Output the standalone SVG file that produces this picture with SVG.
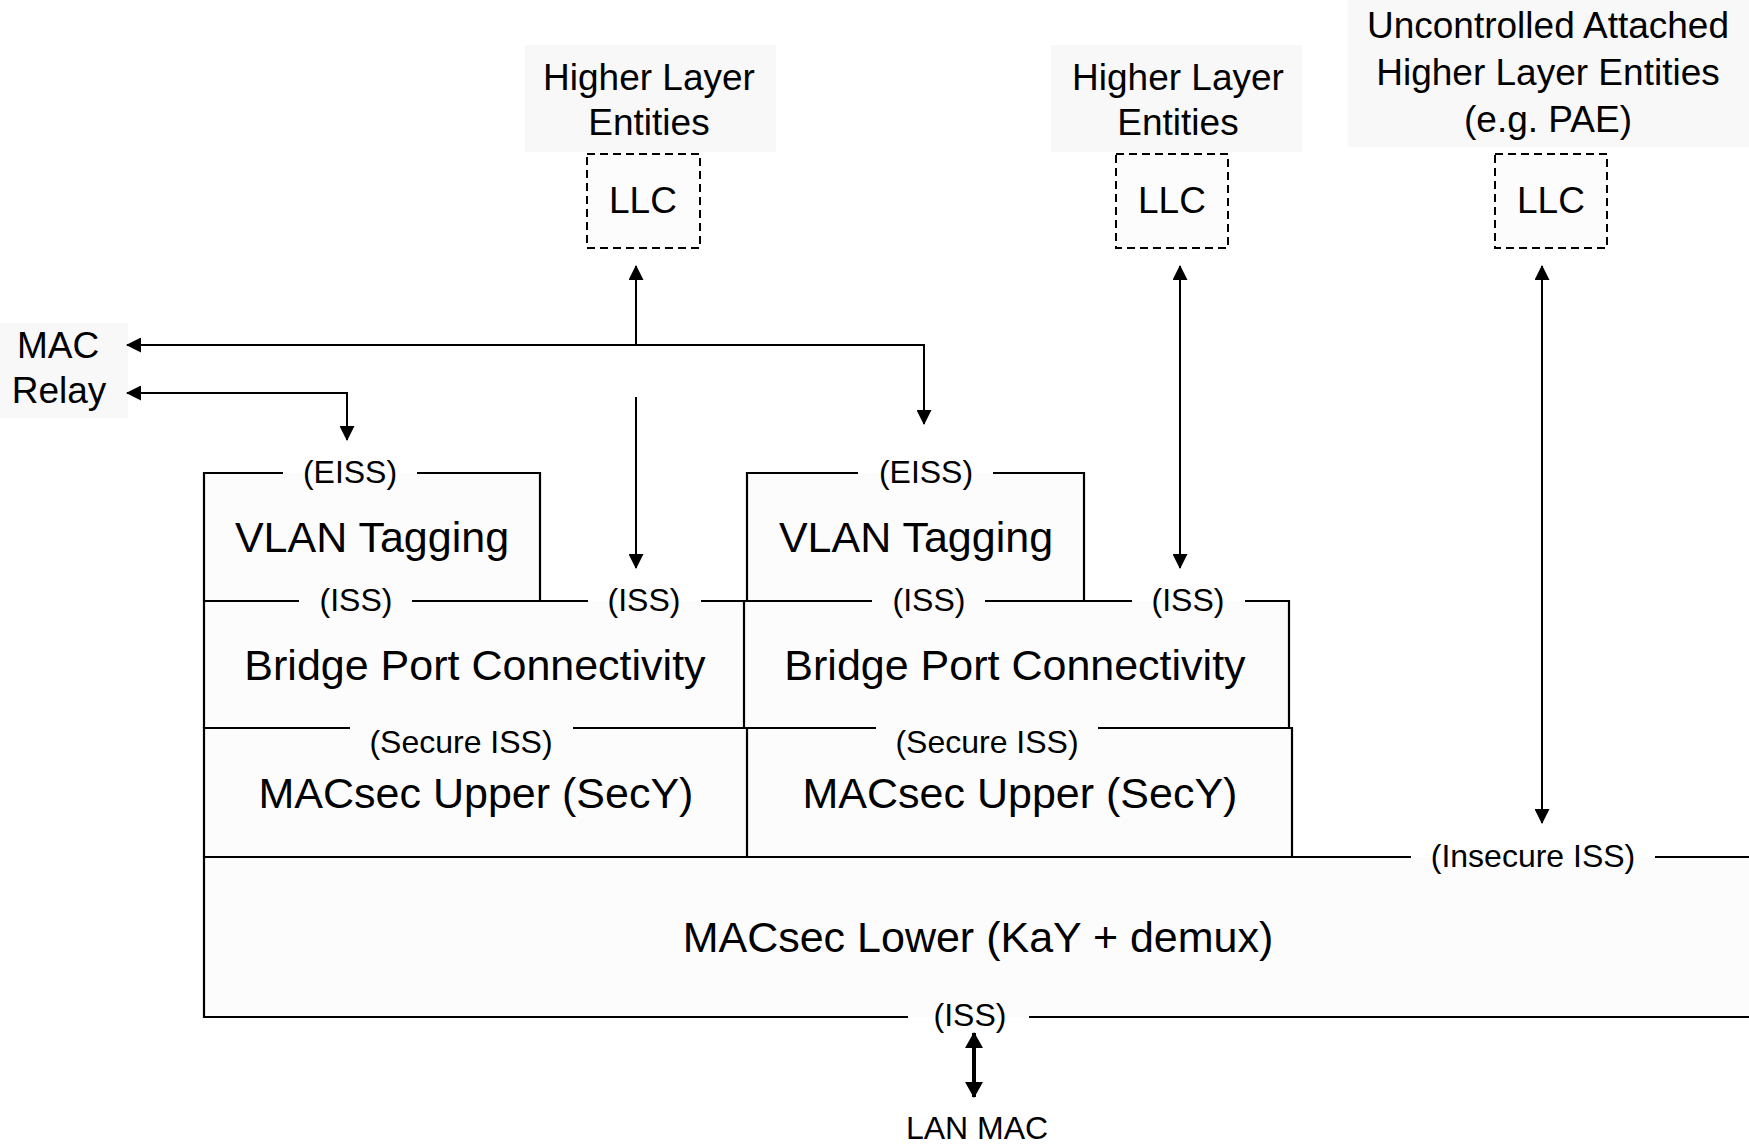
<svg xmlns="http://www.w3.org/2000/svg" width="1749" height="1145" viewBox="0 0 1749 1145">
<style>
text{font-family:"Liberation Sans",Arial,Helvetica,sans-serif;fill:#000;text-anchor:middle}
.big{font-size:43px}
.mid{font-size:37px}
.sm{font-size:32px}
.ln{stroke:#000;stroke-width:2.2;fill:none}
.dash{stroke:#000;stroke-width:2;stroke-dasharray:8,5;fill:#fcfcfc}
.bg{fill:#f8f8f8}
.fill{fill:#fcfcfc}
.arr{stroke:#000;stroke-width:2;fill:none;marker-end:url(#ah)}
.arr2{stroke:#000;stroke-width:2;fill:none;marker-start:url(#ah);marker-end:url(#ah)}
</style>
<defs>
<marker id="ah" viewBox="0 0 15 15" refX="14" refY="7.5" markerWidth="15" markerHeight="15" markerUnits="userSpaceOnUse" orient="auto-start-reverse"><path d="M0,0 L15,7.5 L0,15 z" fill="#000"/></marker>
<marker id="ahb" viewBox="0 0 16 18" refX="15" refY="9" markerWidth="16" markerHeight="18" markerUnits="userSpaceOnUse" orient="auto-start-reverse"><path d="M0,0 L16,9 L0,18 z" fill="#000"/></marker>
</defs>
<rect width="1749" height="1145" fill="#fff"/>

<g id="fills">
<rect class="fill" x="204" y="473" width="336" height="128"/>
<rect class="fill" x="747" y="473" width="337" height="128"/>
<rect class="fill" x="204" y="601" width="1085" height="127"/>
<rect class="fill" x="204" y="728" width="1088" height="129"/>
<rect class="fill" x="204" y="857" width="1545" height="160"/>
</g>

<g id="hle1">
<rect class="bg" x="525" y="45" width="251" height="107"/>
<text class="mid" x="649" y="90">Higher Layer</text>
<text class="mid" x="649" y="135">Entities</text>
</g>
<g id="hle2">
<rect class="bg" x="1051" y="45" width="251" height="107"/>
<text class="mid" x="1178" y="90">Higher Layer</text>
<text class="mid" x="1178" y="135">Entities</text>
</g>
<g id="hle3">
<rect class="bg" x="1348" y="0" width="401" height="147"/>
<text class="mid" x="1548" y="38">Uncontrolled Attached</text>
<text class="mid" x="1548" y="85">Higher Layer Entities</text>
<text class="mid" x="1548" y="132">(e.g. PAE)</text>
</g>
<g id="llc1">
<rect class="dash" x="587" y="154" width="113" height="94"/>
<text class="mid" x="643" y="213">LLC</text>
</g>
<g id="llc2">
<rect class="dash" x="1116" y="154" width="112" height="94"/>
<text class="mid" x="1172" y="213">LLC</text>
</g>
<g id="llc3">
<rect class="dash" x="1495" y="154" width="112" height="94"/>
<text class="mid" x="1551" y="213">LLC</text>
</g>
<g id="macrelay">
<rect class="bg" x="0" y="323" width="128" height="95"/>
<text class="mid" x="58" y="358">MAC</text>
<text class="mid" x="59" y="403">Relay</text>
</g>

<g id="vlan1">
<path class="ln" d="M283,473 H204 V601 M417,473 H540 V601"/>
<text class="sm" x="350" y="483">(EISS)</text>
<text class="big" x="372" y="552">VLAN Tagging</text>
</g>
<g id="vlan2">
<path class="ln" d="M858,473 H747 V601 M993,473 H1084 V601"/>
<text class="sm" x="926" y="483">(EISS)</text>
<text class="big" x="916" y="552">VLAN Tagging</text>
</g>
<g id="bridge1">
<path class="ln" d="M299,601 H204 V728 M412,601 H588 M701,601 H744 V728"/>
<text class="sm" x="356" y="611">(ISS)</text>
<text class="sm" x="644" y="611">(ISS)</text>
<text class="big" x="475" y="680">Bridge Port Connectivity</text>
</g>
<g id="bridge2">
<path class="ln" d="M744,601 H872 M985,601 H1132 M1245,601 H1289 V728"/>
<text class="sm" x="929" y="611">(ISS)</text>
<text class="sm" x="1188" y="611">(ISS)</text>
<text class="big" x="1015" y="680">Bridge Port Connectivity</text>
</g>
<g id="secy1">
<path class="ln" d="M350,728 H204 V857 M573,728 H747 V857"/>
<text class="sm" x="461" y="753">(Secure ISS)</text>
<text class="big" x="476" y="808">MACsec Upper (SecY)</text>
</g>
<g id="secy2">
<path class="ln" d="M747,728 H876 M1098,728 H1292 V857"/>
<text class="sm" x="987" y="753">(Secure ISS)</text>
<text class="big" x="1020" y="808">MACsec Upper (SecY)</text>
</g>
<g id="lower">
<path class="ln" d="M1411,857 H204 V1017 H908 M1029,1017 H1749 M1655,857 H1749"/>
<text class="sm" x="1533" y="867">(Insecure ISS)</text>
<text class="big" x="978" y="952">MACsec Lower (KaY + demux)</text>
<text class="sm" x="970" y="1026">(ISS)</text>
</g>
<g id="lanmac">
<text class="sm" x="977" y="1139">LAN MAC</text>
</g>

<g id="connectors">
<path class="arr" d="M127,345 H924 V424" style="marker-start:url(#ah)"/>
<path class="arr" d="M636,345 V266"/>
<path class="arr" d="M636,397 V568"/>
<path class="arr" d="M127,393 H347 V440" style="marker-start:url(#ah)"/>
<path class="arr2" d="M1180,266 V568"/>
<path class="arr2" d="M1542,266 V823"/>
<path d="M974,1033 V1097" stroke="#000" stroke-width="4" fill="none" marker-start="url(#ahb)" marker-end="url(#ahb)"/>
</g>
</svg>
